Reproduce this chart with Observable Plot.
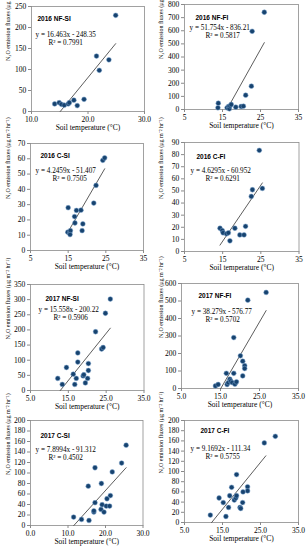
<!DOCTYPE html>
<html><head><meta charset="utf-8">
<script src="https://cdn.jsdelivr.net/npm/d3@7"></script>
<script src="https://cdn.jsdelivr.net/npm/@observablehq/plot@0.6"></script>
<style>
body{margin:0;background:#fff;}
#wrap{position:relative;width:307px;height:550px;overflow:hidden;background:#fff;}
#wrap svg{position:absolute;overflow:visible;max-width:none;}
</style></head><body><div id="wrap"></div>
<script>
// ---- data ----
const panelNames = ["2016 NF-SI","2016 NF-FI","2016 C-SI","2016 C-FI","2017 NF-SI","2017 NF-FI","2017 C-SI","2017 C-FI"];
const equations = ["y = 16.463x - 248.35","y = 51.754x - 836.21","y = 4.2459x - 51.407","y = 4.6295x - 60.952","y = 15.558x - 200.22","y = 38.279x - 576.77","y = 7.8994x - 91.312","y = 9.1692x - 111.34"];
const r2Labels = ["R² = 0.7991","R² = 0.5817","R² = 0.7505","R² = 0.6291","R² = 0.5906","R² = 0.5702","R² = 0.4502","R² = 0.5755"];
const slopes = [16.463,51.754,4.2459,4.6295,15.558,38.279,7.8994,9.1692];
const intercepts = [-248.35,-836.21,-51.407,-60.952,-200.22,-576.77,-91.312,-111.34];
const trendFrom = [15.09,16.16,14.9,14.3,12.87,15.07,11.56,12.14];
const trendTo = [24.9,26.0,24.7,25.4,26.1,26.7,25.5,26.4];

const xTicks = [[10,20,30],[5,15,25,35],[5,15,25,35],[5,15,25,35],[5,15,25,35],[5,15,25,35],[0,10,20,30],[5,15,25,35]];
const xDecimals = [1,0,0,0,1,1,1,1];
const yTicks = [
  [0,50,100,150,200,250],
  [0,100,200,300,400,500,600,700,800],
  [0,10,20,30,40,50,60,70],
  [0,10,20,30,40,50,60,70,80,90],
  [0,50,100,150,200,250,300,350],
  [0,100,200,300,400,500,600],
  [0,20,40,60,80,100,120,140,160,180,200],
  [0,20,40,60,80,100,120,140,160,180,200]
];

const temp_2016_NF_SI = [14.1,14.9,15.3,15.8,16.5,16.7,17.5,18.1,19.3,21.5,22.0,23.7,24.9];
const flux_2016_NF_SI = [18,21,17,15,18,21,27,14,29,132,98,123,229];
const temp_2016_NF_FI = [13.8,13.9,16.2,16.6,16.8,17.0,17.3,18.5,19.9,20.5,21.1,22.6,22.8,26.0];
const flux_2016_NF_FI = [13,48,13,23,5,28,38,18,23,25,109,178,596,741];
const temp_2016_C_SI = [15.0,14.9,15.4,15.6,15.5,16.7,16.8,17.2,18.4,18.9,18.7,21.8,22.4,24.2,24.7];
const flux_2016_C_SI = [28,12,11.5,13,10.4,22.2,18,26.2,26.4,17.4,13,31,42.6,59,60.6];
const temp_2016_C_FI = [14.3,14.9,15.1,16.0,16.5,16.9,18.2,19.5,20.6,21.0,22.5,22.8,24.6,25.4];
const flux_2016_C_FI = [19.2,17.3,15.4,14.6,15.4,8.8,19.2,13.7,13.7,20.8,45.5,51,83.5,52.1];
const temp_2017_NF_SI = [12.2,13.4,14.5,16.3,16.7,17.1,17.5,17.5,18.9,19.1,19.5,20.1,20.3,20.3,22.2,23.8,24.2,24.8,26.1];
const flux_2017_NF_SI = [40,20,76,54,20,40,94,124,48,52,25,40,66,89,194,137,142,255,302];
const temp_2017_NF_FI = [13.7,14.4,16.5,16.7,17.0,17.4,17.6,18.0,18.4,18.4,18.7,19.1,20.1,20.7,20.7,21.2,21.2,22.0,26.7];
const flux_2017_NF_FI = [15,23,87,23,34,53,42,34,87,291,25,38,187,156,72,130,114,505,549];
const temp_2017_C_SI = [11.5,13.6,15.6,15.4,16.9,16.9,17.2,17.2,18.8,18.9,19.1,19.6,20.2,20.4,21.1,21.3,21.8,24.3,25.5];
const flux_2017_C_SI = [16,11.5,9.6,75,25.5,28,43.4,110,30.6,80,39.6,25.5,37,51,37,57,102,119,153];
const temp_2017_C_FI = [11.8,14.1,15.2,15.9,16.6,16.9,17.4,18.1,18.5,18.7,18.7,19.6,19.8,20.3,20.4,21.6,21.6,26.0,28.9];
const flux_2017_C_FI = [14.5,48,39,11.8,29.5,52.5,69,44,48,52.5,94,29.5,27.5,39,60,70,62,156,169];

const temps = [temp_2016_NF_SI,temp_2016_NF_FI,temp_2016_C_SI,temp_2016_C_FI,temp_2017_NF_SI,temp_2017_NF_FI,temp_2017_C_SI,temp_2017_C_FI];
const fluxes = [flux_2016_NF_SI,flux_2016_NF_FI,flux_2016_C_SI,flux_2016_C_FI,flux_2017_NF_SI,flux_2017_NF_FI,flux_2017_C_SI,flux_2017_C_FI];

const yAxisTitle = "N₂O emission fluxes (μg m⁻² hr⁻¹)";
const xAxisTitle = "Soil temperature (°C)";

// ---- layout (pixels) ----
const frames = [
  [31,6,144,111],[184,4,298,109],
  [30,143,143,249.5],[184,141.7,298.5,251],
  [30,283.5,143.5,389.3],[181,283,298,388],
  [30,419.5,142.5,524],[184,420,298,521.7]
];
const labelPos = [[6,10],[11,11],[10,10],[12,12],[15,12],[17,10],[10,13],[16,8]];
const eqPos = [[4,25],[5,20],[5,24],[6,25],[8,22],[10,25],[5,26],[6,25]];
const r2Pos = [[17,33],[21,28],[22,32],[21,33],[23,30],[24,33],[18,34],[21,33]];

const wrap = document.getElementById("wrap");
const serif = "'Liberation Serif','Times New Roman',serif";
const mT = 8, mB = 26;

for (let i = 0; i < 8; i++) {
  const col = i % 2;
  const svgLeft = col * 153;
  const fr = frames[i];
  const mL = fr[0] - svgLeft;
  const mR = svgLeft + 153 - fr[2];
  const H = Math.round(fr[3] - fr[1]) + mT + mB;
  const xt = xTicks[i], yt = yTicks[i];
  const pts = temps[i].map((t, k) => ({t, f: fluxes[i][k]}));
  const trend = [trendFrom[i], trendTo[i]].map(x => ({x, y: slopes[i] * x + intercepts[i]}));
  const dec = xDecimals[i];
  const p = Plot.plot({
    width: 153, height: H,
    marginLeft: mL, marginRight: mR, marginTop: mT, marginBottom: mB,
    style: {fontFamily: serif, fontSize: "7.5px", background: "transparent", color: "#000"},
    x: {domain: [xt[0], xt[xt.length - 1]]},
    y: {domain: [yt[0], yt[yt.length - 1]]},
    marks: [
      Plot.frame({stroke: "#8a8a8a", strokeWidth: 0.8}),
      Plot.axisX({ticks: xt, tickSize: 3, tickPadding: 1.8, stroke: "#8a8a8a", tickFormat: d => d.toFixed(dec), label: null, fill: "#000"}),
      Plot.axisY({ticks: yt, tickSize: 3, tickPadding: 2.2, stroke: "#8a8a8a", tickFormat: d => String(d), label: null, fill: "#000"}),
      Plot.line(trend, {x: "x", y: "y", stroke: "#333", strokeWidth: 0.8}),
      Plot.dot(pts, {x: "t", y: "f", r: 2.4, fill: "#17436f", stroke: "#7aa3cc", strokeWidth: 0.5}),
      Plot.text([panelNames[i]], {text: d => d, frameAnchor: "top-left", dx: labelPos[i][0], dy: labelPos[i][1], textAnchor: "start", fontFamily: "'Liberation Sans',Arial,sans-serif", fontWeight: "bold", fontSize: 6.5}),
      Plot.text([equations[i]], {text: d => d, frameAnchor: "top-left", dx: eqPos[i][0], dy: eqPos[i][1], textAnchor: "start", fontSize: 7.2}),
      Plot.text([r2Labels[i]], {text: d => d, frameAnchor: "top-left", dx: r2Pos[i][0], dy: r2Pos[i][1], textAnchor: "start", fontSize: 7.2}),
      Plot.text([yAxisTitle], {text: d => d, frameAnchor: "left", dx: -(fr[0] - svgLeft) + 7.5, dy: 2, rotate: -90, fontSize: 6}),
      Plot.text([xAxisTitle], {text: d => d, frameAnchor: "bottom", dy: 18.5, fontSize: 7.5})
    ]
  });
  p.style.left = svgLeft + "px";
  p.style.top = (fr[1] - mT) + "px";
  wrap.appendChild(p);
}
</script>
</body></html>
